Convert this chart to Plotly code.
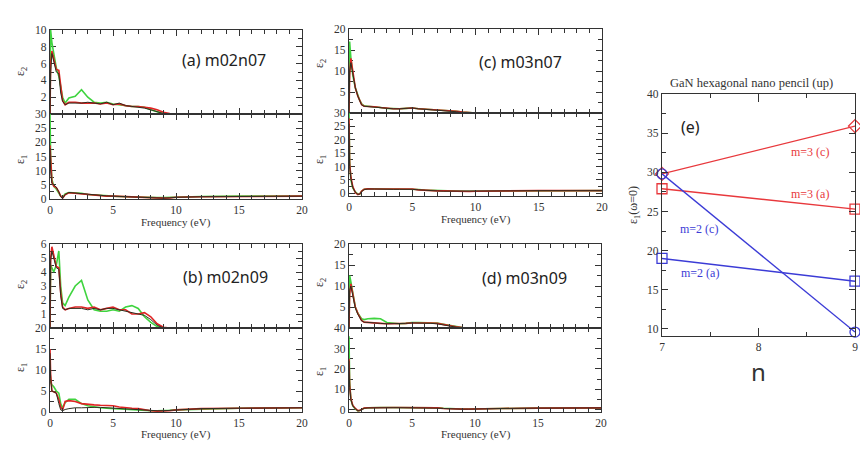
import plotly.graph_objects as go

# ---------------- data ----------------
FREQ = [0, 0.05, 0.15, 0.3, 0.5, 0.7, 0.85, 1.0, 1.2, 1.5, 2.0, 2.5, 3.0, 3.5, 4.0,
        4.5, 5.0, 5.5, 6.0, 6.5, 7.0, 7.5, 8.0, 8.5, 9.0, 9.5, 10.0, 12.0, 15.0, 20.0]

# (a) m02n07
A_E2_GREEN = [0, 10, 8.5, 7, 5.5, 4.5, 3.0, 2.0, 1.3, 1.9, 2.1, 2.9, 2.0, 1.4, 1.3, 1.4, 1.2, 1.1, 1.0, 0.9, 0.9, 0.8, 0.5, 0.3, 0.05, 0, 0, 0, 0, 0]
A_E2_RED = [0, 6, 7.5, 6.5, 5.3, 5.2, 3.0, 1.6, 1.1, 1.4, 1.4, 1.3, 1.3, 1.3, 1.2, 1.3, 1.1, 1.2, 1.0, 0.9, 0.9, 0.8, 0.7, 0.5, 0.2, 0.05, 0, 0, 0, 0]
A_E2_DARK = [0, 5, 7.2, 6.2, 5.0, 4.8, 2.5, 1.5, 1.1, 1.3, 1.3, 1.3, 1.4, 1.3, 1.2, 1.4, 1.1, 1.3, 1.0, 0.9, 0.8, 0.7, 0.5, 0.3, 0.05, 0, 0, 0, 0, 0]
A_E1_GREEN = [30, 15, 7, 4.5, 3.5, 2.0, 1.0, 0.6, 1.8, 2.3, 2.2, 2.0, 1.6, 1.4, 1.2, 1.1, 1.0, 0.9, 0.8, 0.7, 0.7, 0.6, 0.5, 0.5, 0.5, 0.6, 0.7, 0.9, 1.0, 1.0]
A_E1_RED = [19, 12, 6, 4.5, 4.0, 2.5, 1.0, 0.3, 1.5, 2.2, 2.0, 1.8, 1.5, 1.3, 1.2, 1.0, 1.0, 0.9, 0.8, 0.7, 0.6, 0.5, 0.4, 0.3, 0.3, 0.4, 0.6, 0.8, 0.9, 1.0]
A_E1_DARK = [18, 10, 5.5, 4.8, 4.2, 2.5, 0.8, 0.2, 1.6, 2.3, 2.1, 1.8, 1.5, 1.3, 1.2, 1.1, 1.0, 0.9, 0.8, 0.7, 0.6, 0.5, 0.4, 0.3, 0.3, 0.4, 0.6, 0.8, 0.9, 1.0]

# (c) m03n07
C_E2_GREEN = [0, 17, 13, 9, 6, 4, 3, 2.2, 1.7, 1.6, 1.5, 1.3, 1.1, 1.0, 1.0, 1.1, 1.2, 1.0, 0.9, 0.9, 0.8, 0.7, 0.6, 0.4, 0.2, 0.05, 0, 0, 0, 0]
C_E2_RED = [0, 9, 13, 9.5, 6, 4, 2.8, 2.0, 1.6, 1.6, 1.5, 1.3, 1.1, 1.0, 1.0, 1.1, 1.2, 1.0, 0.9, 0.8, 0.8, 0.7, 0.6, 0.4, 0.2, 0.05, 0, 0, 0, 0]
C_E2_DARK = [0, 10, 12, 9, 6, 4, 2.8, 1.9, 1.6, 1.5, 1.4, 1.2, 1.1, 1.0, 1.0, 1.1, 1.2, 1.0, 0.9, 0.8, 0.7, 0.6, 0.5, 0.3, 0.1, 0, 0, 0, 0, 0]
C_E1_GREEN = [30, 12, 5, 2, 0.5, -0.3, -0.3, 0.8, 1.5, 1.7, 1.7, 1.6, 1.6, 1.6, 1.6, 1.6, 1.6, 1.4, 1.2, 1.1, 1.0, 0.9, 0.9, 0.8, 0.8, 0.8, 0.8, 0.9, 1.0, 1.0]
C_E1_RED = [28, 11, 6, 2.5, 0.3, -0.5, -0.2, 0.8, 1.5, 1.7, 1.6, 1.6, 1.5, 1.5, 1.6, 1.6, 1.6, 1.3, 1.1, 1.0, 0.9, 0.9, 0.8, 0.8, 0.7, 0.7, 0.8, 0.9, 1.0, 1.0]
C_E1_DARK = [26, 10, 5.5, 2.2, 0.4, -0.4, -0.3, 0.7, 1.4, 1.6, 1.6, 1.5, 1.5, 1.5, 1.5, 1.6, 1.5, 1.3, 1.1, 1.0, 0.9, 0.8, 0.8, 0.7, 0.7, 0.7, 0.8, 0.9, 1.0, 1.0]

# (b) m02n09
B_E2_GREEN = [0, 4.5, 4.3, 4.0, 4.5, 5.5, 3.0, 1.8, 1.6, 2.2, 3.0, 3.4, 2.0, 1.3, 1.2, 1.2, 1.3, 1.2, 1.5, 1.6, 1.4, 0.8, 0.4, 0.1, 0, 0, 0, 0, 0, 0]
B_E2_RED = [0, 5.0, 5.8, 5.2, 4.4, 4.3, 2.5, 1.5, 1.3, 1.4, 1.5, 1.5, 1.4, 1.5, 1.3, 1.4, 1.5, 1.3, 1.3, 1.0, 1.0, 1.1, 0.8, 0.3, 0.05, 0, 0, 0, 0, 0]
B_E2_DARK = [0, 4.8, 5.5, 5.0, 4.3, 4.2, 2.3, 1.4, 1.3, 1.4, 1.4, 1.4, 1.3, 1.4, 1.3, 1.4, 1.4, 1.3, 1.2, 1.1, 1.0, 0.9, 0.6, 0.2, 0, 0, 0, 0, 0, 0]
B_E1_GREEN = [10, 7, 6.5, 6, 5, 4.5, 2.0, 1.0, 2.2, 3.0, 3.0, 2.0, 1.5, 1.2, 1.0, 0.9, 0.8, 0.7, 0.6, 0.5, 0.4, 0.4, 0.3, 0.3, 0.3, 0.4, 0.5, 0.7, 0.9, 1.0]
B_E1_RED = [15, 9, 5, 4.7, 4.5, 3.0, 1.2, 0.5, 2.5, 2.7, 2.5, 2.0, 1.8, 1.7, 1.6, 1.5, 1.5, 1.2, 1.0, 0.9, 0.8, 0.5, 0.3, 0.2, 0.2, 0.3, 0.5, 0.8, 0.9, 1.0]
B_E1_DARK = [14, 8, 5, 4.8, 4.5, 2.0, 0.5, 0.3, 0.6, 0.8, 1.0, 1.0, 1.1, 1.1, 1.1, 1.0, 1.0, 0.9, 0.8, 0.7, 0.6, 0.5, 0.4, 0.3, 0.3, 0.4, 0.5, 0.8, 0.9, 1.0]

# (d) m03n09
D_E2_GREEN = [0, 12.5, 11, 8, 5, 3.5, 2.8, 2.2, 2.0, 2.2, 2.3, 2.2, 1.3, 1.1, 1.0, 1.1, 1.3, 1.3, 1.3, 1.2, 1.2, 0.9, 0.6, 0.3, 0.1, 0, 0, 0, 0, 0]
D_E2_RED = [0, 8, 10.5, 8, 5, 3.5, 2.5, 1.8, 1.4, 1.3, 1.2, 1.1, 1.0, 1.0, 1.0, 1.1, 1.2, 1.2, 1.3, 1.2, 1.1, 0.8, 0.5, 0.3, 0.1, 0, 0, 0, 0, 0]
D_E2_DARK = [0, 9, 10, 7.5, 4.8, 3.3, 2.4, 1.7, 1.4, 1.3, 1.2, 1.1, 1.0, 1.0, 1.0, 1.1, 1.2, 1.2, 1.2, 1.1, 1.0, 0.7, 0.4, 0.2, 0.05, 0, 0, 0, 0, 0]
D_E1_GREEN = [36, 14, 5, 2, 0.5, -0.5, -0.3, 0.3, 0.8, 1.0, 1.2, 1.2, 1.2, 1.2, 1.2, 1.2, 1.2, 1.1, 1.0, 1.0, 1.0, 0.8, 0.6, 0.5, 0.5, 0.5, 0.5, 0.7, 0.9, 1.0]
D_E1_RED = [25, 12, 5.5, 2.2, 0.8, -0.3, -0.2, 0.3, 0.9, 1.1, 1.2, 1.2, 1.2, 1.2, 1.2, 1.2, 1.2, 1.1, 1.0, 1.0, 1.0, 0.7, 0.5, 0.4, 0.4, 0.4, 0.5, 0.7, 0.9, 1.0]
D_E1_DARK = [24, 11, 5, 2, 0.6, -0.4, -0.3, 0.3, 0.8, 1.0, 1.1, 1.1, 1.1, 1.1, 1.1, 1.1, 1.1, 1.0, 1.0, 0.9, 0.9, 0.7, 0.5, 0.4, 0.4, 0.4, 0.5, 0.7, 0.9, 1.0]

# (e) static dielectric constant vs n
N_VALUES = [7, 9]
M3_C = [29.8, 35.9]
M3_A = [27.9, 25.3]
M2_C = [29.8, 9.6]
M2_A = [19.0, 16.1]

# ticks
FREQ_MAJOR = [0, 5, 10, 15, 20]
FREQ_MINOR = [1, 2, 3, 4, 6, 7, 8, 9, 11, 12, 13, 14, 16, 17, 18, 19]
N_MAJOR = [7, 8, 9]
N_MINOR = [7.5, 8.5]
E_MAJOR = [10, 15, 20, 25, 30, 35, 40]
E_MINOR = [12.5, 17.5, 22.5, 27.5, 32.5, 37.5]

# the page body keeps an 8 px margin, so the figure is 16 px smaller than the window
OFF = 8
W, H = 868 - 2 * OFF, 457 - 2 * OFF
SERIF = "Liberation Serif"
SANS = "Noto Sans"
AX = "#333333"
GREEN = "#3fd43f"
RED = "#e02424"
DARK = "#2e2e1e"

def fx(sx):
    return (sx - OFF) / W

def fy(sy):
    return 1 - (sy - OFF) / H

def px_x(a, b):
    return [fx(a), fx(b)]

def px_y(top, bottom):
    return [fy(bottom), fy(top)]

def xaxis(domain, anchor, rng, major, minor, labels):
    return dict(domain=domain, anchor=anchor, range=rng, showline=True, linecolor=AX,
                linewidth=1.4, mirror="ticks", ticks="inside", ticklen=6, tickwidth=1.1,
                tickcolor=AX, tickmode="array", tickvals=major, showticklabels=labels,
                tickfont=dict(family=SERIF, size=11.5, color="#333"),
                minor=dict(ticks="inside", ticklen=3.5, tickwidth=1, tickcolor=AX,
                           tickmode="array", tickvals=minor),
                showgrid=False, zeroline=False, fixedrange=True, automargin=False)

def yaxis(domain, anchor, rng, major, minor, layer="above traces"):
    return dict(domain=domain, anchor=anchor, range=rng, showline=True, linecolor=AX,
                linewidth=1.4, mirror="ticks", ticks="inside", ticklen=6, tickwidth=1.1,
                tickcolor=AX, tickmode="array", tickvals=major,
                tickfont=dict(family=SERIF, size=11.5, color="#333"),
                minor=dict(ticks="inside", ticklen=3.5, tickwidth=1, tickcolor=AX,
                           tickmode="array", tickvals=minor),
                showgrid=False, zeroline=False, fixedrange=True, automargin=False,
                layer=layer)

fig = go.Figure()

panels = [
    (1, (50, 302), (30, 114), (114, 199), [0, 10], [0, 30],
     [2, 4, 6, 8, 10], [1, 3, 5, 7, 9], [0, 5, 10, 15, 20, 25, 30], [2.5, 7.5, 12.5, 17.5, 22.5, 27.5],
     (A_E2_GREEN, A_E2_RED, A_E2_DARK), (A_E1_GREEN, A_E1_RED, A_E1_DARK)),
    (3, (349, 602), (29, 113), (113, 196), [0, 20], [-1, 30],
     [5, 10, 15, 20], [2.5, 7.5, 12.5, 17.5], [0, 5, 10, 15, 20, 25, 30], [2.5, 7.5, 12.5, 17.5, 22.5, 27.5],
     (C_E2_GREEN, C_E2_RED, C_E2_DARK), (C_E1_GREEN, C_E1_RED, C_E1_DARK)),
    (5, (50, 302), (244, 328), (328, 412), [0, 6], [0, 20],
     [1, 2, 3, 4, 5, 6], [0.5, 1.5, 2.5, 3.5, 4.5, 5.5], [0, 5, 10, 15, 20], [2.5, 7.5, 12.5, 17.5],
     (B_E2_GREEN, B_E2_RED, B_E2_DARK), (B_E1_GREEN, B_E1_RED, B_E1_DARK)),
    (7, (349, 601), (244, 328), (328, 412), [0, 20], [-1, 40],
     [5, 10, 15, 20], [2.5, 7.5, 12.5, 17.5], [0, 10, 20, 30, 40], [5, 15, 25, 35],
     (D_E2_GREEN, D_E2_RED, D_E2_DARK), (D_E1_GREEN, D_E1_RED, D_E1_DARK)),
]

layout_axes = {}
for (i, xp, e2p, e1p, r2, r1, t2, m2, t1, m1, d2, d1) in panels:
    j = i + 1
    xs = "" if i == 1 else str(i)
    layout_axes["xaxis" + xs] = xaxis(px_x(*xp), "y" + xs, [0, 20], FREQ_MAJOR, FREQ_MINOR, False)
    layout_axes["yaxis" + xs] = yaxis(px_y(*e2p), "x" + xs, r2, t2, m2, "below traces")
    layout_axes["xaxis" + str(j)] = xaxis(px_x(*xp), "y" + str(j), [0, 20], FREQ_MAJOR, FREQ_MINOR, True)
    layout_axes["yaxis" + str(j)] = yaxis(px_y(*e1p), "x" + str(j), r1, t1, m1, "below traces")
    for axn, data in ((xs, d2), (str(j), d1)):
        g, r, k = data
        for vals, col, wd in ((g, GREEN, 1.6), (r, RED, 1.6), (k, DARK, 1.0)):
            fig.add_trace(go.Scatter(x=FREQ, y=vals, mode="lines",
                                     line=dict(color=col, width=wd),
                                     xaxis="x" + axn, yaxis="y" + axn, showlegend=False,
                                     hoverinfo="skip"))

# panel (e)
layout_axes["xaxis9"] = xaxis(px_x(662, 855), "y9", [7, 9], N_MAJOR, N_MINOR, True)
layout_axes["yaxis9"] = yaxis(px_y(94, 336), "x9", [9.1, 40], E_MAJOR, E_MINOR)
layout_axes["xaxis9"]["ticklen"] = 8

E_RED = "#e8383c"
E_BLUE = "#3b3bd6"
for vals, col, sym in ((M3_C, E_RED, "diamond-open"), (M3_A, E_RED, "square-open"),
                       (M2_C, E_BLUE, "circle-open"), (M2_A, E_BLUE, "square-open")):
    fig.add_trace(go.Scatter(x=N_VALUES, y=vals, mode="lines+markers",
                             line=dict(color=col, width=1.4),
                             marker=dict(symbol=sym, size=10, color=col, line=dict(width=1.3, color=col)),
                             xaxis="x9", yaxis="y9", cliponaxis=False, showlegend=False,
                             hoverinfo="skip"))

def ann(text, x, y, size, family, color="#222", angle=0):
    return dict(text=text, x=fx(x), y=fy(y), xref="paper", yref="paper",
                showarrow=False, font=dict(family=family, size=size, color=color),
                textangle=angle, xanchor="center", yanchor="middle")

annotations = [
    ann("(a) m02n07", 224, 60, 16, SANS),
    ann("(c) m03n07", 520, 62, 16, SANS),
    ann("(b) m02n09", 225, 277, 16, SANS),
    ann("(d) m03n09", 524, 278, 16, SANS),
    ann("Frequency (eV)", 176, 222, 11, SERIF, "#333"),
    ann("Frequency (eV)", 476, 220, 11, SERIF, "#333"),
    ann("Frequency (eV)", 176, 434, 11, SERIF, "#333"),
    ann("Frequency (eV)", 476, 434, 11, SERIF, "#333"),
    ann("ε<sub>2</sub>", 21, 72, 12, SERIF, "#333", -90),
    ann("ε<sub>1</sub>", 21, 160, 12, SERIF, "#333", -90),
    ann("ε<sub>2</sub>", 320, 64, 12, SERIF, "#333", -90),
    ann("ε<sub>1</sub>", 320, 160, 12, SERIF, "#333", -90),
    ann("ε<sub>2</sub>", 21, 285, 12, SERIF, "#333", -90),
    ann("ε<sub>1</sub>", 21, 368, 12, SERIF, "#333", -90),
    ann("ε<sub>2</sub>", 320, 283, 12, SERIF, "#333", -90),
    ann("ε<sub>1</sub>", 320, 372, 12, SERIF, "#333", -90),
    ann("GaN hexagonal nano pencil (up)", 751, 83, 12.5, SERIF, "#333"),
    ann("(e)", 690, 127, 16, SANS),
    ann("m=3 (c)", 810, 152, 12, SERIF, E_RED),
    ann("m=3 (a)", 810, 194, 12, SERIF, E_RED),
    ann("m=2 (c)", 699, 229, 12, SERIF, E_BLUE),
    ann("m=2 (a)", 700, 273, 12, SERIF, E_BLUE),
    ann("ε<sub>1</sub>(ω=0)", 634, 205, 12, SERIF, "#333", -90),
    ann("n", 758, 371, 24, SANS, "#333"),
]

fig.update_layout(width=W, height=H,
                  margin=dict(l=0, r=0, t=0, b=0, pad=0, autoexpand=False),
                  paper_bgcolor="white", plot_bgcolor="white", showlegend=False,
                  annotations=annotations, **layout_axes)

fig.write_html("out.html")
